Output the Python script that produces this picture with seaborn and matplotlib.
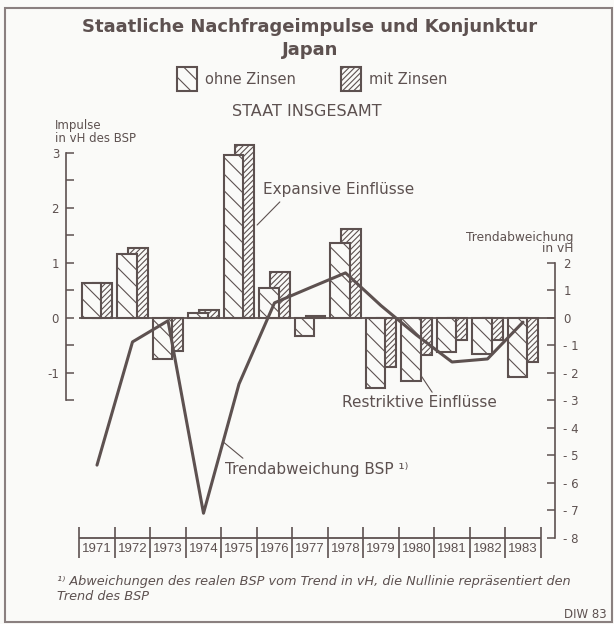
import matplotlib
matplotlib.use("Agg")
import matplotlib.pyplot as plt
import numpy as np
import seaborn as sns
from matplotlib.patches import Rectangle
from matplotlib.ticker import FixedLocator

# Data
years = [1971, 1972, 1973, 1974, 1975, 1976, 1977, 1978, 1979, 1980, 1981, 1982, 1983]
ohne_zinsen = [0.64, 1.17, -0.75, 0.09, 2.97, 0.55, -0.33, 1.36, -1.27, -1.15, -0.62, -0.65, -1.07]
mit_zinsen = [0.64, 1.27, -0.60, 0.15, 3.14, 0.84, 0.04, 1.61, -0.89, -0.67, -0.40, -0.40, -0.80]
trend_bsp = [-5.35, -0.87, -0.10, -7.10, -2.40, 0.55, 1.10, 1.64, 0.45, -0.62, -1.60, -1.49, -0.15]
left_ticks = [-1, 0, 1, 2, 3]
right_ticks = [-8, -7, -6, -5, -4, -3, -2, -1, 0, 1, 2]

ink = "#5d5150"
bg = "#fafaf8"
W, H = 614, 624

sns.set_style("white")
plt.rcParams["font.family"] = ["DejaVu Sans"]
plt.rcParams["hatch.linewidth"] = 0.8
plt.rcParams["text.color"] = ink


def px(x, y):
    # pixel position (from top-left) -> figure fraction
    return x / W, 1 - y / H


fig = plt.figure(figsize=(W / 100, H / 100), dpi=100, facecolor=bg)
ax = fig.add_axes([66 / W, 1 - 558 / H, (555 - 66) / W, (558 - 140) / H])
ax.set_facecolor("none")
ax.set_xlim(1970.127, 1983.901)
ax.set_ylim(-4.364, 3.236)

x = np.array(years, dtype=float)
ax.bar(x + 0.155, mit_zinsen, width=0.54, color=bg, edgecolor=ink, linewidth=1.5,
       hatch="//////", zorder=2)
ax.bar(x - 0.155, ohne_zinsen, width=0.54, color=bg, edgecolor=ink, linewidth=1.5,
       hatch="\\\\", zorder=3)

# zero line and year scale
ax.hlines(0, 1970.5, 1983.901, color=ink, lw=1.3, zorder=4)
ax.hlines(-4, 1970.5, 1983.5, color=ink, lw=1.3)
ax.vlines(np.arange(1970.5, 1984.0, 1.0), -4.364, -3.8, color=ink, lw=1.2)
for yr in years:
    ax.text(yr, -4.2, str(yr), ha="center", va="center", fontsize=9.5, color=ink,
            family=["Liberation Sans", "DejaVu Sans"])

# left axis
for s in ["top", "bottom", "right"]:
    ax.spines[s].set_visible(False)
ax.spines["left"].set_bounds(-1.5, 3)
ax.spines["left"].set_color(ink)
ax.spines["left"].set_linewidth(1.2)
ax.yaxis.set_major_locator(FixedLocator(left_ticks))
ax.yaxis.set_minor_locator(FixedLocator(np.arange(-1.5, 3.01, 0.5)))
ax.set_yticklabels([str(v) for v in left_ticks])
ax.tick_params(axis="y", which="both", direction="in", length=6, width=1.1,
               color=ink, labelcolor=ink, labelsize=8.5, pad=5)
ax.set_xticks([])
ax.yaxis.set_minor_formatter(plt.NullFormatter())

# right axis with the trend line (drawn above the bars)
ax2 = ax.twinx()
ax2.set_ylim(-8.728, 6.472)
sns.lineplot(x=years, y=trend_bsp, ax=ax2, color=ink, lw=2.2, zorder=5)
for s in ["top", "bottom", "left"]:
    ax2.spines[s].set_visible(False)
ax2.spines["right"].set_bounds(-8, 2)
ax2.spines["right"].set_color(ink)
ax2.spines["right"].set_linewidth(1.2)
ax2.set_yticks(right_ticks)
ax2.set_yticklabels([f"- {abs(v)}" if v < 0 else str(v) for v in right_ticks])
ax2.tick_params(axis="y", direction="in", length=6, width=1.1, color=ink,
                labelcolor=ink, labelsize=8.5, pad=6)
ax2.set_ylabel("")

# annotations with leader lines
lead = dict(arrowstyle="-", color=ink, lw=0.8, shrinkA=0, shrinkB=0)
ax.text(1975.68, 2.33, "Expansive Einflüsse", fontsize=11, va="center", color=ink)
ax.annotate("", xy=(1975.51, 1.69), xytext=(1976.15, 2.11), arrowprops=lead)
ax.text(1977.90, -1.53, "Restriktive Einflüsse", fontsize=11, va="center", color=ink)
ax.annotate("", xy=(1980.13, -1.05), xytext=(1980.44, -1.35), arrowprops=lead)
ax.text(1974.61, -2.76, "Trendabweichung BSP ¹⁾", fontsize=11, va="center", color=ink)
ax.annotate("", xy=(1974.55, -2.25), xytext=(1975.11, -2.55), arrowprops=lead)

# titles and labels
fig.text(*px(310, 27), "Staatliche Nachfrageimpulse und Konjunktur", ha="center",
         va="center", fontsize=13, fontweight="bold")
fig.text(*px(310, 50), "Japan", ha="center", va="center", fontsize=13, fontweight="bold")
fig.text(*px(307, 112), "STAAT INSGESAMT", ha="center", va="center", fontsize=11.5)
fig.text(*px(55, 125), "Impulse", ha="left", va="center", fontsize=8.5)
fig.text(*px(55, 138), "in vH des BSP", ha="left", va="center", fontsize=8.5)
fig.text(*px(573, 237), "Trendabweichung", ha="right", va="center", fontsize=8.8)
fig.text(*px(573, 249), "in vH", ha="right", va="center", fontsize=8.8)

# legend
for bx, tx, label, hatch in [(177, 205, "ohne Zinsen", "\\\\"), (341, 369, "mit Zinsen", "//////")]:
    fig.add_artist(Rectangle(px(bx, 91), 20 / W, 24 / H, transform=fig.transFigure,
                             facecolor=bg, edgecolor=ink, lw=1.5, hatch=hatch))
    fig.text(*px(tx, 80), label, ha="left", va="center", fontsize=10.5)

# footnote
fig.text(*px(57, 581), "¹⁾ Abweichungen des realen BSP vom Trend in vH, die Nullinie repräsentiert den",
         ha="left", va="center", fontsize=9.3, style="italic")
fig.text(*px(57, 597), "Trend des BSP", ha="left", va="center", fontsize=9.3, style="italic")
fig.text(*px(607, 615), "DIW 83", ha="right", va="center", fontsize=8.5)

# outer frame
fig.add_artist(Rectangle(px(5, 622), 607 / W, 614 / H, transform=fig.transFigure,
                         fill=False, edgecolor="#8a8080", lw=1.5))

fig.savefig("out.png", dpi=100, facecolor=bg)
